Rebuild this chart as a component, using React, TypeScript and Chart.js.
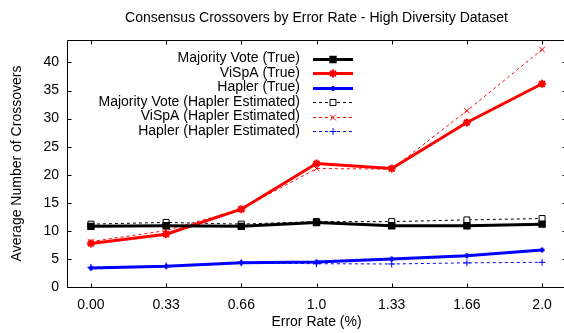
import React, { useEffect, useRef } from "react";
import { Chart, registerables } from "chart.js";
import { drawPoint } from "chart.js/helpers";

Chart.register(...registerables);

const categories = ["0.00", "0.33", "0.66", "1.0", "1.33", "1.66", "2.0"];
const yTicks = [0, 5, 10, 15, 20, 25, 30, 35, 40];

const majorityTrue = [10.8, 10.9, 10.8, 11.5, 10.9, 10.9, 11.2];
const vispaTrue = [7.75, 9.4, 13.85, 22.0, 21.1, 29.3, 36.2];
const haplerTrue = [3.4, 3.7, 4.3, 4.45, 5.0, 5.55, 6.6];
const majorityEst = [11.2, 11.5, 11.2, 11.65, 11.65, 11.95, 12.2];
const vispaEst = [8.1, 10.05, 13.9, 21.1, 21.0, 31.4, 42.3];
const haplerEst = [3.5, 3.75, 4.3, 4.15, 4.1, 4.3, 4.4];

const FONT = "'Liberation Sans', Arial, Helvetica, sans-serif";
const FS = 14;

const toPts = (arr: number[]) => arr.map((v, i) => ({ x: i, y: v }));

const framePlugin = {
  id: "gnuFrame",
  afterDraw(chart: any) {
    const { ctx, chartArea } = chart;
    const xs = chart.scales.x;
    const ys = chart.scales.y;
    const L = Math.round(chartArea.left) + 0.5;
    const R = Math.round(chartArea.right) + 0.5;
    const T = Math.round(chartArea.top) + 0.5;
    const B = Math.round(chartArea.bottom) + 0.5;
    ctx.save();
    ctx.strokeStyle = "#000";
    ctx.lineWidth = 1;
    ctx.setLineDash([]);
    ctx.beginPath();
    ctx.rect(L, T, R - L, B - T);
    const tl = 4;
    categories.forEach((_, i) => {
      const px = Math.round(xs.getPixelForValue(i)) + 0.5;
      ctx.moveTo(px, B);
      ctx.lineTo(px, B - tl);
      ctx.moveTo(px, T);
      ctx.lineTo(px, T + tl);
    });
    yTicks.forEach((v) => {
      const py = Math.round(ys.getPixelForValue(v)) + 0.5;
      ctx.moveTo(L, py);
      ctx.lineTo(L + tl, py);
      ctx.moveTo(R, py);
      ctx.lineTo(R - tl, py);
    });
    ctx.stroke();

    // title
    ctx.fillStyle = "#000";
    ctx.font = `${FS}px ${FONT}`;
    ctx.textAlign = "center";
    ctx.textBaseline = "middle";
    ctx.fillText(
      "Consensus Crossovers by Error Rate - High Diversity Dataset",
      (chartArea.left + chartArea.right) / 2,
      18
    );

    // legend
    const textRight = 300;
    const lx0 = 313;
    const lx1 = 353;
    const y0 = 58.5;
    const step = 14.5;
    chart.data.datasets.forEach((ds: any, i: number) => {
      const y = y0 + i * step;
      ctx.fillStyle = "#000";
      ctx.textAlign = "right";
      ctx.textBaseline = "middle";
      ctx.font = `${FS}px ${FONT}`;
      ctx.fillText(ds.label, textRight, y);
      ctx.strokeStyle = ds.borderColor;
      ctx.lineWidth = ds.borderWidth;
      ctx.setLineDash(ds.borderDash || []);
      ctx.beginPath();
      ctx.moveTo(lx0, Math.round(y) + 0.5);
      ctx.lineTo(lx1, Math.round(y) + 0.5);
      ctx.stroke();
      ctx.setLineDash([]);
      ctx.fillStyle = ds.pointBackgroundColor;
      ctx.strokeStyle = ds.borderColor;
      ctx.lineWidth = ds.pointBorderWidth;
      drawPoint(
        ctx,
        { pointStyle: ds.pointStyle, radius: ds.pointRadius, borderWidth: ds.pointBorderWidth, rotation: 0 },
        (lx0 + lx1) / 2,
        Math.round(y) + 0.5
      );
    });
    ctx.restore();
  },
};

export default function App() {
  const ref = useRef<HTMLCanvasElement | null>(null);
  useEffect(() => {
    document.body.style.margin = "0";
    Chart.defaults.font.family = FONT;
    Chart.defaults.font.size = FS;
    Chart.defaults.color = "#000";
    const mk = (
      label: string,
      data: number[],
      color: string,
      dashed: boolean,
      pointStyle: string,
      radius: number,
      pbw: number,
      fill: string
    ) => ({
      label,
      data: toPts(data),
      borderColor: color,
      backgroundColor: fill,
      pointBackgroundColor: fill,
      pointBorderColor: color,
      borderWidth: dashed ? 1 : 3,
      borderDash: dashed ? [3, 3] : [],
      pointStyle,
      pointRadius: radius,
      pointBorderWidth: pbw,
      pointHoverRadius: radius,
      tension: 0,
    });
    const chart = new Chart(ref.current as HTMLCanvasElement, {
      type: "line",
      data: {
        datasets: [
          mk("Majority Vote (True)", majorityTrue, "#000000", false, "rect", 4.2, 1.5, "#000000"),
          mk("ViSpA (True)", vispaTrue, "#ff0000", false, "star", 4, 2, "#ff0000"),
          mk("Hapler (True)", haplerTrue, "#0000ff", false, "cross", 2.5, 2.5, "#0000ff"),
          mk("Majority Vote (Hapler Estimated)", majorityEst, "#000000", true, "rect", 4.2, 1, "#ffffff"),
          mk("ViSpA (Hapler Estimated)", vispaEst, "#ff0000", true, "crossRot", 4, 1, "#ff0000"),
          mk("Hapler (Hapler Estimated)", haplerEst, "#0000ff", true, "cross", 3.5, 1, "#0000ff"),
        ] as any,
      },
      options: {
        animation: false,
        responsive: false,
        events: [],
        layout: { padding: { top: 40, right: 5, left: 0, bottom: 0 } },
        plugins: { legend: { display: false }, title: { display: false }, tooltip: { enabled: false } },
        scales: {
          x: {
            type: "linear",
            min: -0.318,
            max: 6.318,
            grid: { display: false, drawTicks: false },
            border: { display: false },
            afterFit: (s: any) => {
              s.height = 46;
            },
            afterBuildTicks: (s: any) => {
              s.ticks = categories.map((_, i) => ({ value: i }));
            },
            ticks: {
              padding: 10,
              maxRotation: 0,
              autoSkip: false,
              callback: (v: any) => categories[Math.round(Number(v))] ?? "",
            },
            title: { display: true, text: "Error Rate (%)", padding: { top: 0, bottom: 2 } },
          },
          y: {
            type: "linear",
            min: 0,
            max: 44,
            grid: { display: false, drawTicks: false },
            border: { display: false },
            afterFit: (s: any) => {
              s.width = 67;
            },
            afterBuildTicks: (s: any) => {
              s.ticks = yTicks.map((v) => ({ value: v }));
            },
            ticks: { padding: 8 },
            title: { display: true, text: "Average Number of Crossovers", padding: { top: 9, bottom: 0 } },
          },
        },
      },
      plugins: [framePlugin],
    } as any);
    return () => chart.destroy();
  }, []);
  return (
    <div style={{ width: 564, height: 333, overflow: "hidden", position: "relative" }}>
      <canvas ref={ref} width={572} height={333} style={{ width: 572, height: 333, display: "block" }} />
    </div>
  );
}
